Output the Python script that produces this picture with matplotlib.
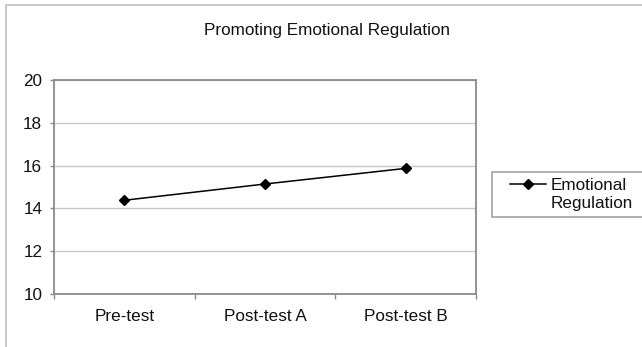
import matplotlib
matplotlib.use("Agg")
import matplotlib.pyplot as plt
from matplotlib.lines import Line2D
from matplotlib.patches import Rectangle
from matplotlib.legend_handler import HandlerLine2D

# Data
categories = ["Pre-test", "Post-test A", "Post-test B"]
scores = [14.38, 15.14, 15.87]
series_name = "Emotional Regulation"
title = "Promoting Emotional Regulation"
y_ticks = [10, 12, 14, 16, 18, 20]

plt.rcParams["font.family"] = ["Liberation Sans", "DejaVu Sans"]
FS = 12.3

W, H = 642, 347
fig = plt.figure(figsize=(W / 100, H / 100), dpi=100)

# Outer chart border (light grey)
fig.patches.append(Rectangle((6 / W, -0.1), 1.2, 1 - 5 / H + 0.1,
                             transform=fig.transFigure, fill=False,
                             edgecolor="#c4c4c4", linewidth=1.3))

ax = fig.add_axes([54 / W, 1 - 294 / H, 422 / W, 214 / H])

x = list(range(len(categories)))
line, = ax.plot(x, scores, color="black", linewidth=1.1, marker="D",
                markersize=4.6, markerfacecolor="black",
                markeredgecolor="black", zorder=3)

ax.set_xlim(-0.5, len(categories) - 0.5)
ax.set_ylim(min(y_ticks), max(y_ticks))
ax.set_yticks(y_ticks)
ax.set_yticklabels([str(v) for v in y_ticks], fontsize=FS, color="#111111")
ax.set_xticks(x)
ax.set_xticklabels(categories, fontsize=FS, color="#111111")
ax.set_xticks([i - 0.5 for i in range(len(categories) + 1)], minor=True)

ax.tick_params(axis="x", which="major", length=0, pad=10.5)
ax.tick_params(axis="x", which="minor", length=3.5, width=1, color="#8a8a8a",
               direction="out")
ax.tick_params(axis="y", which="major", length=3.2, width=1, color="#8a8a8a",
               direction="out", pad=5.2)

ax.yaxis.grid(True, color="#c8c8c8", linewidth=1)
ax.set_axisbelow(True)
for s in ax.spines.values():
    s.set_color("#8a8a8a")
    s.set_linewidth(1.3)

fig.text(327 / W, 1 - 35 / H, title, ha="center", va="baseline",
         fontsize=FS, color="#111111")

# Legend: handle sits on the first line of the series name
words = series_name.split(" ")
blank = Line2D([], [], linestyle="none", marker="none")
leg = fig.legend([line, blank], words, loc="upper left",
                 bbox_to_anchor=(491.7 / W, 0, 0.3, 1 - 172 / H),
                 bbox_transform=fig.transFigure, mode="expand",
                 borderaxespad=0, borderpad=0.36, numpoints=1,
                 handlelength=2.8, handletextpad=0.28, labelspacing=0.15,
                 fontsize=FS, fancybox=False, framealpha=1,
                 edgecolor="#9a9a9a",
                 handler_map={line: HandlerLine2D(xpad=0.7)})
leg.get_frame().set_linewidth(1.1)
for t in leg.get_texts():
    t.set_color("#111111")

fig.savefig("out.png", dpi=100)
